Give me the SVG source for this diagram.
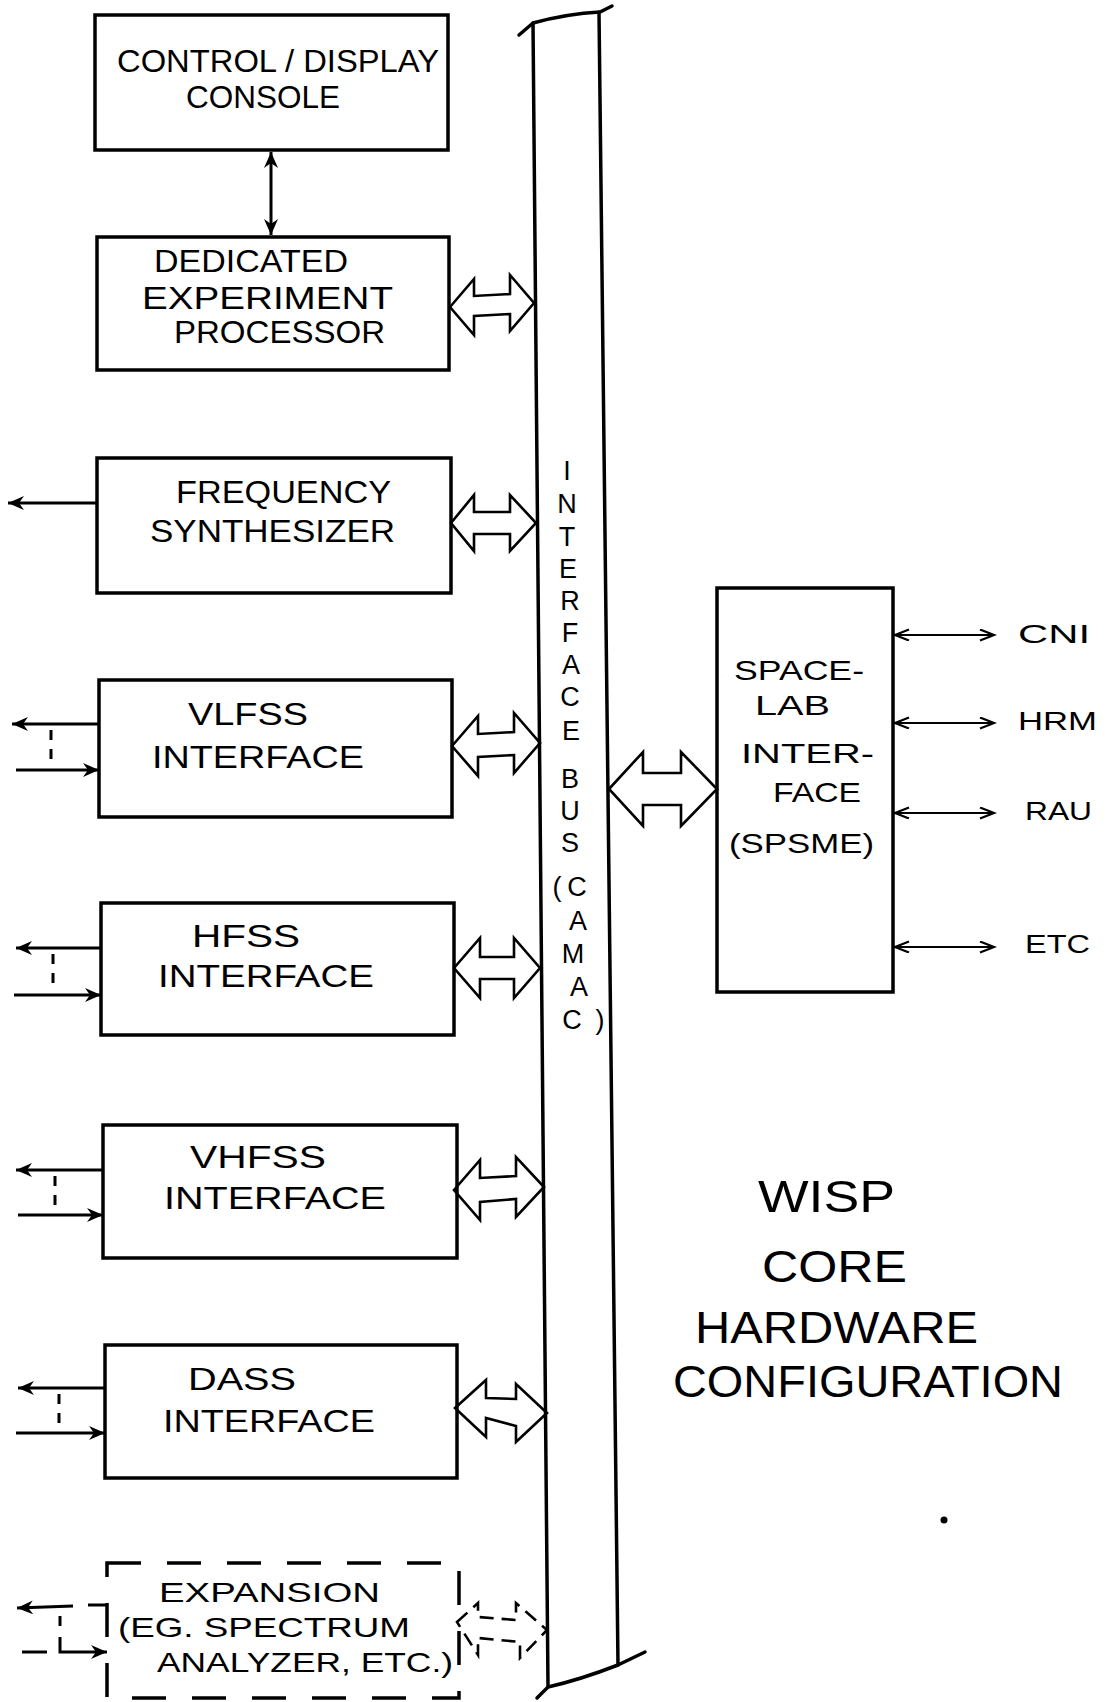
<svg xmlns="http://www.w3.org/2000/svg" width="1117" height="1702" viewBox="0 0 1117 1702">
<style>
  .box{fill:none;stroke:#000;stroke-width:3.5}
  .dbox{fill:none;stroke:#000;stroke-width:3.5;stroke-dasharray:34 26}
  .t{font-family:"Liberation Sans",Arial,sans-serif;font-size:32px;fill:#000}
  .ts{font-family:"Liberation Sans",Arial,sans-serif;font-size:28px;fill:#000}
  .tl{font-family:"Liberation Sans",Arial,sans-serif;font-size:26px;fill:#000}
  .tt{font-family:"Liberation Sans",Arial,sans-serif;font-size:44px;fill:#000}
  .bus{font-family:"Liberation Sans",Arial,sans-serif;font-size:27px;fill:#000;text-anchor:middle}
  .ha{fill:none;stroke:#000;stroke-width:2.6;stroke-linejoin:miter}
  .had{fill:none;stroke:#000;stroke-width:2.6;stroke-dasharray:14 8}
  .ln{fill:none;stroke:#000;stroke-width:3}
  .lnt{fill:none;stroke:#000;stroke-width:2.2}
  .dash{fill:none;stroke:#000;stroke-width:3;stroke-dasharray:10 9}
  .busl{fill:none;stroke:#000;stroke-width:3.5;stroke-linecap:round}
</style>
<defs>
  <marker id="arr" markerUnits="userSpaceOnUse" markerWidth="18" markerHeight="14" refX="16" refY="7" orient="auto-start-reverse">
    <path d="M0,0 L16,7 L0,14 L5,7 Z" fill="#000"/>
  </marker>
  <marker id="vee" markerUnits="userSpaceOnUse" markerWidth="18" markerHeight="14" refX="15" refY="6" orient="auto-start-reverse">
    <path d="M1,0.5 L15,6 L1,11.5" fill="none" stroke="#000" stroke-width="2.2"/>
  </marker>
</defs>
<rect width="1117" height="1702" fill="#fff"/>

<g id="bus">
  <path class="busl" d="M519,35 L533,23 C555,17 580,13 600,12 L612,6"/>
  <path class="busl" d="M533,23 L548,1687"/>
  <path class="busl" d="M599,12 L618,1665"/>
  <path class="busl" d="M537,1698 L548,1687 C570,1682 600,1672 618,1665 L645,1652"/>
  <text class="bus"><tspan x="567" y="480">I</tspan><tspan x="567" y="513">N</tspan><tspan x="567" y="546">T</tspan><tspan x="568" y="578">E</tspan><tspan x="570" y="610">R</tspan><tspan x="570" y="642">F</tspan><tspan x="571" y="674">A</tspan><tspan x="570" y="706">C</tspan><tspan x="571" y="740">E</tspan><tspan x="570" y="788">B</tspan><tspan x="570" y="820">U</tspan><tspan x="570" y="852">S</tspan><tspan x="557" y="896">(</tspan><tspan x="577" y="896">C</tspan><tspan x="578" y="930">A</tspan><tspan x="573" y="963">M</tspan><tspan x="579" y="996">A</tspan><tspan x="572" y="1029">C</tspan><tspan x="600" y="1029">)</tspan></text>
</g>

<g id="control-display-console">
  <rect class="box" x="95" y="15" width="353" height="135"/>
  <text class="t" x="117" y="72" textLength="322" lengthAdjust="spacingAndGlyphs">CONTROL / DISPLAY</text>
  <text class="t" x="186" y="108" textLength="154" lengthAdjust="spacingAndGlyphs">CONSOLE</text>
</g>

<g id="dedicated-experiment-processor">
  <rect class="box" x="97" y="237" width="352" height="133"/>
  <text class="t" x="154" y="272" textLength="194" lengthAdjust="spacingAndGlyphs">DEDICATED</text>
  <text class="t" x="142" y="309" textLength="251" lengthAdjust="spacingAndGlyphs">EXPERIMENT</text>
  <text class="t" x="174" y="343" textLength="211" lengthAdjust="spacingAndGlyphs">PROCESSOR</text>
</g>

<g id="frequency-synthesizer">
  <rect class="box" x="97" y="458" width="354" height="135"/>
  <text class="t" x="176" y="503" textLength="215" lengthAdjust="spacingAndGlyphs">FREQUENCY</text>
  <text class="t" x="150" y="542" textLength="245" lengthAdjust="spacingAndGlyphs">SYNTHESIZER</text>
</g>

<g id="vlfss-interface">
  <rect class="box" x="99" y="680" width="353" height="137"/>
  <text class="t" x="188" y="725" textLength="120" lengthAdjust="spacingAndGlyphs">VLFSS</text>
  <text class="t" x="152" y="768" textLength="212" lengthAdjust="spacingAndGlyphs">INTERFACE</text>
</g>

<g id="hfss-interface">
  <rect class="box" x="101" y="903" width="353" height="132"/>
  <text class="t" x="192" y="947" textLength="108" lengthAdjust="spacingAndGlyphs">HFSS</text>
  <text class="t" x="158" y="987" textLength="216" lengthAdjust="spacingAndGlyphs">INTERFACE</text>
</g>

<g id="vhfss-interface">
  <rect class="box" x="103" y="1125" width="354" height="133"/>
  <text class="t" x="190" y="1168" textLength="136" lengthAdjust="spacingAndGlyphs">VHFSS</text>
  <text class="t" x="164" y="1209" textLength="222" lengthAdjust="spacingAndGlyphs">INTERFACE</text>
</g>

<g id="dass-interface">
  <rect class="box" x="105" y="1345" width="352" height="133"/>
  <text class="t" x="188" y="1390" textLength="108" lengthAdjust="spacingAndGlyphs">DASS</text>
  <text class="t" x="163" y="1432" textLength="212" lengthAdjust="spacingAndGlyphs">INTERFACE</text>
</g>

<g id="expansion">
  <rect class="dbox" x="107" y="1563" width="352" height="135"/>
  <text class="ts" x="159" y="1602" textLength="221" lengthAdjust="spacingAndGlyphs">EXPANSION</text>
  <text class="ts" x="118" y="1637" textLength="292" lengthAdjust="spacingAndGlyphs">(EG. SPECTRUM</text>
  <text class="ts" x="157" y="1672" textLength="296" lengthAdjust="spacingAndGlyphs">ANALYZER, ETC.)</text>
</g>

<g id="spacelab-interface">
  <rect class="box" x="717" y="588" width="176" height="404"/>
  <text class="ts" x="734" y="680" textLength="130" lengthAdjust="spacingAndGlyphs">SPACE-</text>
  <text class="ts" x="755" y="715" textLength="75" lengthAdjust="spacingAndGlyphs">LAB</text>
  <text class="ts" x="741" y="763" textLength="133" lengthAdjust="spacingAndGlyphs">INTER-</text>
  <text class="ts" x="773" y="802" textLength="88" lengthAdjust="spacingAndGlyphs">FACE</text>
  <text class="ts" x="729" y="853" textLength="145" lengthAdjust="spacingAndGlyphs">(SPSME)</text>
</g>

<g id="title">
  <text class="tt" x="758" y="1212" textLength="137" lengthAdjust="spacingAndGlyphs">WISP</text>
  <text class="tt" x="762" y="1282" textLength="145" lengthAdjust="spacingAndGlyphs">CORE</text>
  <text class="tt" x="695" y="1343" textLength="283" lengthAdjust="spacingAndGlyphs">HARDWARE</text>
  <text class="tt" x="673" y="1397" textLength="390" lengthAdjust="spacingAndGlyphs">CONFIGURATION</text>
</g>

<g id="external-labels">
  <text class="tl" x="1018" y="643" textLength="72" lengthAdjust="spacingAndGlyphs">CNI</text>
  <text class="tl" x="1018" y="730" textLength="79" lengthAdjust="spacingAndGlyphs">HRM</text>
  <text class="tl" x="1025" y="820" textLength="67" lengthAdjust="spacingAndGlyphs">RAU</text>
  <text class="tl" x="1025" y="953" textLength="65" lengthAdjust="spacingAndGlyphs">ETC</text>
</g>

<g id="connectors">
  <line class="ln" x1="271" y1="152" x2="271" y2="235" marker-start="url(#arr)" marker-end="url(#arr)"/>

  <path class="ha" d="M450,307 L474,279 L474,296 L510,294 L510,275 L534,303 L510,331 L510,314 L474,316 L474,335 Z"/>
  <path class="ha" d="M451,523 L474,495 L474,512 L510,512 L510,495 L536,523 L510,551 L510,534 L474,534 L474,551 Z"/>
  <path class="ha" d="M452,746 L478,716 L478,734 L514,732 L514,713 L540,743 L514,773 L514,755 L478,757 L478,776 Z"/>
  <path class="ha" d="M454,968 L480,938 L480,957 L514,957 L514,938 L540,968 L514,998 L514,979 L480,979 L480,998 Z"/>
  <path class="ha" d="M454,1190 L480,1160 L480,1178 L516,1176 L516,1157 L544,1187 L516,1217 L516,1199 L480,1202 L480,1220 Z"/>
  <path class="ha" d="M455,1408 L486,1380 L486,1398 L516,1399 L516,1384 L547,1413 L516,1442 L516,1426 L486,1418 L486,1437 Z"/>
  <path class="had" d="M457,1622 L478,1603 L478,1617 L516,1620 L516,1603 L547,1630 L520,1658 L520,1642 L478,1638 L478,1655 Z"/>
  <path class="ha" d="M609,789 L643,752 L643,773 L681,773 L681,752 L717,789 L681,826 L681,805 L643,805 L643,826 Z"/>

  <line class="ln" x1="97" y1="503" x2="8" y2="503" marker-end="url(#arr)"/>

  <line class="ln" x1="99" y1="724" x2="12" y2="724" marker-end="url(#arr)"/>
  <line class="ln" x1="16" y1="770" x2="99" y2="770" marker-end="url(#arr)"/>
  <line class="dash" x1="51" y1="730" x2="51" y2="765"/>

  <line class="ln" x1="101" y1="948" x2="16" y2="948" marker-end="url(#arr)"/>
  <line class="ln" x1="14" y1="995" x2="101" y2="995" marker-end="url(#arr)"/>
  <line class="dash" x1="53" y1="954" x2="53" y2="990"/>

  <line class="ln" x1="103" y1="1170" x2="16" y2="1170" marker-end="url(#arr)"/>
  <line class="ln" x1="18" y1="1215" x2="103" y2="1215" marker-end="url(#arr)"/>
  <line class="dash" x1="55" y1="1176" x2="55" y2="1210"/>

  <line class="ln" x1="105" y1="1388" x2="18" y2="1388" marker-end="url(#arr)"/>
  <line class="ln" x1="16" y1="1433" x2="105" y2="1433" marker-end="url(#arr)"/>
  <line class="dash" x1="59" y1="1394" x2="59" y2="1428"/>

  <line class="ln" x1="107" y1="1605" x2="88" y2="1605"/>
  <line class="ln" x1="73" y1="1606" x2="17" y2="1608" marker-end="url(#arr)"/>
  <line class="ln" x1="22" y1="1652" x2="47" y2="1652"/>
  <polyline class="ln" points="60,1637 60,1652 107,1652" marker-end="url(#arr)"/>
  <line class="ln" x1="60" y1="1616" x2="60" y2="1626"/>

  <line class="lnt" x1="895" y1="635" x2="994" y2="635" marker-start="url(#vee)" marker-end="url(#vee)"/>
  <line class="lnt" x1="895" y1="723" x2="994" y2="723" marker-start="url(#vee)" marker-end="url(#vee)"/>
  <line class="lnt" x1="895" y1="813" x2="994" y2="813" marker-start="url(#vee)" marker-end="url(#vee)"/>
  <line class="lnt" x1="895" y1="947" x2="994" y2="947" marker-start="url(#vee)" marker-end="url(#vee)"/>
</g>

<circle cx="944" cy="1520" r="3.5" fill="#000"/>
</svg>
